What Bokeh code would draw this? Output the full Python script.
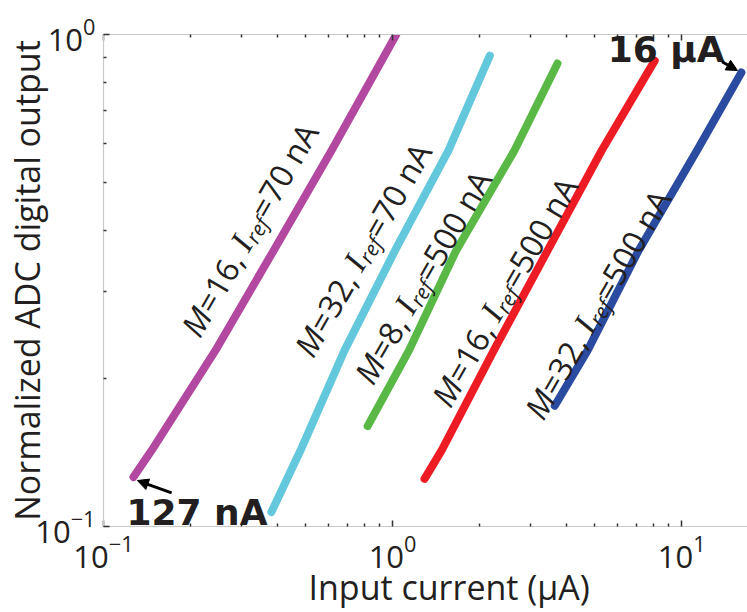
import math
from bokeh.plotting import figure
from bokeh.models import LogAxis, FixedTicker, Label, Arrow, NormalHead, Range1d, Title
from bokeh.embed import file_html
from bokeh.resources import INLINE

# ---------------- data ----------------
# input current (uA) and normalized ADC output for each configuration
x_m16_i70 = [0.127, 0.147, 0.244, 0.388, 0.615, 1.03]
y_m16_i70 = [0.126, 0.143, 0.228, 0.364, 0.581, 1.0]

x_m32_i70 = [0.381, 0.481, 0.682, 1.02, 1.56, 2.17]
y_m32_i70 = [0.107, 0.143, 0.228, 0.364, 0.581, 0.906]

x_m8_i500 = [0.82, 1.14, 1.66, 2.64, 3.72]
y_m8_i500 = [0.160, 0.228, 0.364, 0.581, 0.873]

x_m16_i500 = [1.29, 1.48, 2.24, 3.44, 5.29, 8.07]
y_m16_i500 = [0.125, 0.143, 0.228, 0.364, 0.581, 0.885]

x_m32_i500 = [3.64, 4.73, 7.10, 11.3, 16.1]
y_m32_i500 = [0.176, 0.228, 0.364, 0.581, 0.837]

series_colors = ["#B2489F", "#64C8DC", "#5AB946", "#ED1C24", "#2A4BA0"]
series_M = ["16", "32", "8", "16", "32"]
series_Iref = ["70 nA", "70 nA", "500 nA", "500 nA", "500 nA"]

x_major = [0.1, 1, 10]
y_major = [0.1, 1]
x_minor = [m * d for d in (0.1, 1, 10) for m in range(2, 10)]
y_minor = [m * 0.1 for m in range(2, 10)]

# label anchor positions (start of each rotated series label, data coords)
label_x = [0.198, 0.488, 0.787, 1.454, 3.05]
label_y = [0.247, 0.225, 0.198, 0.178, 0.168]

FONT = "Open Sans"
TXT = "#231f20"

p = figure(width=747, height=612, x_axis_type="log", y_axis_type="log",
           x_range=Range1d(0.1, 16.9), y_range=Range1d(0.1, 1.0),
           output_backend="svg", toolbar_location=None,
           min_border_left=103, min_border_right=0, min_border_top=34,
           min_border_bottom=86)
p.xgrid.visible = False
p.ygrid.visible = False
p.outline_line_color = None
p.background_fill_color = "white"
p.border_fill_color = "white"


def style_axis(ax, ticks, minor, labels=True):
    ax.ticker = FixedTicker(ticks=ticks, minor_ticks=minor)
    ax.axis_line_color = "#c8c8c8"
    ax.axis_line_width = 1.2
    ax.major_tick_in = 6
    ax.major_tick_out = 0
    ax.minor_tick_in = 3
    ax.minor_tick_out = 0
    ax.major_tick_line_color = "#333333"
    ax.minor_tick_line_color = "#333333"
    ax.major_tick_line_width = 1.5
    ax.minor_tick_line_width = 1.5
    ax.major_label_text_font = FONT
    ax.major_label_text_color = TXT
    if labels:
        ax.major_label_text_font_size = "31px"
        ax.major_label_standoff = 8
    else:
        ax.major_label_text_font_size = "8px"
        ax.major_label_text_alpha = 0
        ax.major_label_standoff = 0


style_axis(p.xaxis[0], x_major, x_minor)
style_axis(p.yaxis[0], y_major, y_minor)
top = LogAxis()
style_axis(top, x_major, x_minor, labels=False)
p.add_layout(top, "above")

# y axis title
p.yaxis[0].axis_label = "Normalized ADC digital output"
p.yaxis[0].axis_label_text_font = FONT
p.yaxis[0].axis_label_text_font_size = "34px"
p.yaxis[0].axis_label_text_font_style = "normal"
p.yaxis[0].axis_label_text_color = TXT
p.yaxis[0].axis_label_standoff = -18

# x axis title (slightly right of the frame centre, as in the reference)
p.add_layout(Title(text="Input current (µA)", align="left", offset=205,
                   text_font=FONT, text_font_size="34px", text_font_style="normal",
                   text_color=TXT, standoff=-17), "below")

series = [
    (x_m16_i70, y_m16_i70),
    (x_m32_i70, y_m32_i70),
    (x_m8_i500, y_m8_i500),
    (x_m16_i500, y_m16_i500),
    (x_m32_i500, y_m32_i500),
]
for (xs, ys), c in zip(series, series_colors):
    p.line(xs, ys, line_color=c, line_width=8, line_cap="round", line_join="round")

# approximate advance widths (em)
W = {" ": 0.26, ",": 0.245, "=": 0.572, "A": 0.633, "n": 0.614, "M": 0.86,
     "I": 0.36, "r": 0.39, "e": 0.53, "f": 0.33}
for dgt in "0123456789":
    W[dgt] = 0.572


def text_width(t, fs):
    return sum(W.get(ch, 0.55) for ch in t) * fs


def rich_label(x, y, pieces, size, angle_deg):
    th = math.radians(angle_deg)
    d = 0.0
    for txt, font, italic, scale, shift in pieces:
        fs = size * scale
        s = shift * size
        xo = d * math.cos(th) - s * math.sin(th)
        yo = d * math.sin(th) + s * math.cos(th)
        p.add_layout(Label(x=x, y=y, x_offset=xo, y_offset=yo, text=txt, angle=th,
                           text_font=font, text_font_size=f"{fs:.1f}px",
                           text_font_style="italic" if italic else "normal",
                           text_baseline="alphabetic", text_align="left",
                           text_color=TXT))
        d += text_width(txt, fs)


LSIZE = 32
SERIF = "Liberation Serif"
for lx, ly, m, iref in zip(label_x, label_y, series_M, series_Iref):
    rich_label(lx, ly, [("M", FONT, True, 1, 0), (f"={m}, ", FONT, False, 1, 0),
                        ("I", SERIF, True, 1.05, 0), ("ref", FONT, True, 0.65, -0.22),
                        (f"={iref}", FONT, False, 1, 0)], LSIZE, 60)

# annotations with arrows
p.add_layout(Label(x=0.12, y=0.1, y_offset=14, text="127 nA", text_font="DejaVu Sans",
                   text_font_style="bold", text_font_size="36px",
                   text_baseline="alphabetic", text_color=TXT))
p.add_layout(Arrow(end=NormalHead(size=11, fill_color="black", line_color="black"),
                   x_start=0.172, y_start=0.117, x_end=0.131, y_end=0.124,
                   line_width=3, line_color="black"))
p.add_layout(Label(x=5.55, y=0.906, y_offset=6, text="16 µA", text_font="DejaVu Sans",
                   text_font_style="bold", text_font_size="36px",
                   text_baseline="alphabetic", text_color=TXT))
p.add_layout(Arrow(end=NormalHead(size=11, fill_color="black", line_color="black"),
                   x_start=13.8, y_start=0.88, x_end=15.6, y_end=0.845,
                   line_width=3, line_color="black"))

open("out.html", "w").write(file_html(p, INLINE))
